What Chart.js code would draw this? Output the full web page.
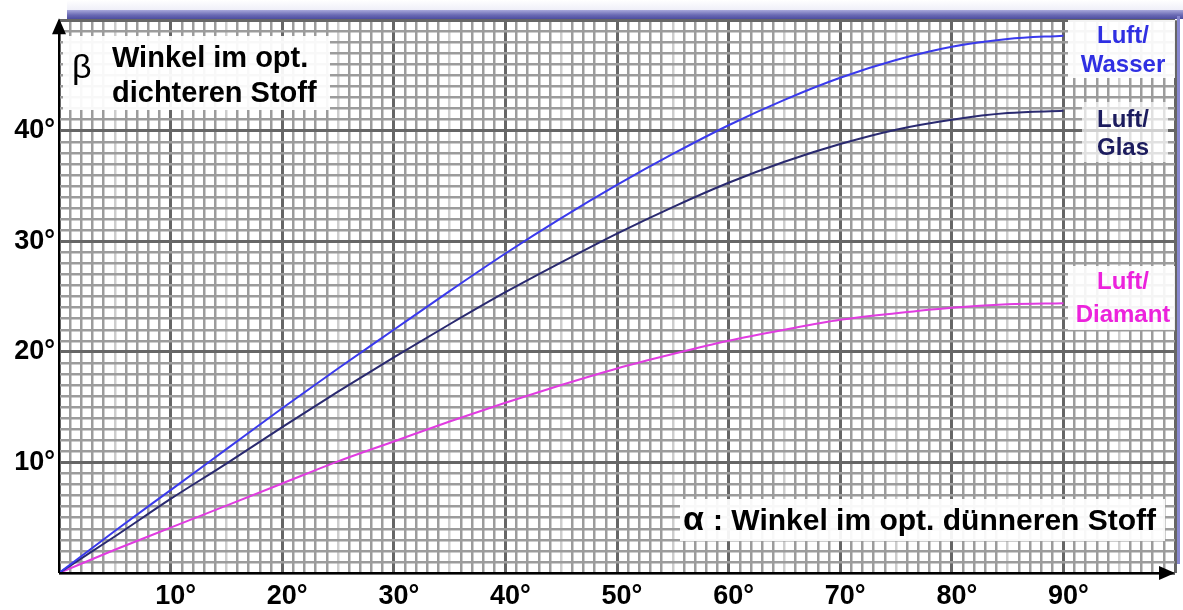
<!DOCTYPE html>
<html>
<head>
<meta charset="utf-8">
<script src="https://cdn.jsdelivr.net/npm/chart.js@4.4.1/dist/chart.umd.min.js"></script>
<style>
  html, body { margin: 0; padding: 0; background: #fff; }
  canvas { display: block; }
</style>
</head>
<body>
<canvas id="c" width="1183" height="610"></canvas>
<script>
// Brechung: Einfallswinkel alpha (Luft) -> Brechungswinkel beta
const alpha   = [0, 5, 10, 15, 20, 25, 30, 35, 40, 45, 50, 55, 60, 65, 70, 75, 80, 85, 90];
const wasser  = [0, 3.8, 7.5, 11.2, 14.9, 18.5, 22.0, 25.5, 28.9, 32.1, 35.1, 37.9, 40.5, 42.8, 44.8, 46.4, 47.6, 48.3, 48.6];
const glas    = [0, 3.3, 6.7, 9.9, 13.2, 16.4, 19.5, 22.5, 25.4, 28.1, 30.7, 33.1, 35.3, 37.2, 38.8, 40.1, 41.0, 41.6, 41.8];
const diamant = [0, 2.1, 4.1, 6.1, 8.1, 10.1, 11.9, 13.7, 15.4, 17.0, 18.5, 19.8, 21.0, 22.0, 22.9, 23.5, 24.0, 24.3, 24.4];

const xTickLabels = [10, 20, 30, 40, 50, 60, 70, 80, 90];
const yTickLabels = [10, 20, 30, 40];

const FONT = '"Liberation Sans", Arial, sans-serif';

function pts(ys) { return alpha.map((a, i) => ({ x: a, y: ys[i] })); }

function gridColor(v, vertical) {
  if (v % 10 === 0) return '#666666';
  if (vertical && v % 5 === 0) return '#cdcdcd';
  return '#9c9c9c';
}

const deko = {
  id: 'deko',
  beforeDraw(chart) {
    const ctx = chart.ctx;
    ctx.save();
    ctx.fillStyle = '#fff';
    ctx.fillRect(0, 0, chart.width, chart.height);
    const g = ctx.createLinearGradient(0, 0, 0, 12);
    g.addColorStop(0, '#ffffff');
    g.addColorStop(1, '#ececf7');
    ctx.fillStyle = g;
    ctx.fillRect(67, 0, chart.width - 67, 12);
    ctx.restore();
  },
  afterDraw(chart) {
    const ctx = chart.ctx;
    const { left, right, top, bottom } = chart.chartArea;
    ctx.save();

    // blauer Rahmen oben und rechts
    const g = ctx.createLinearGradient(0, 10, 0, 20);
    g.addColorStop(0, '#a8a8da');
    g.addColorStop(0.5, '#6a6ab4');
    g.addColorStop(1, '#46469a');
    ctx.fillStyle = g;
    ctx.fillRect(67, 10, chart.width - 67, 9);
    ctx.fillStyle = '#8888cf';
    ctx.fillRect(1177, 16, 3, 548);

    // Achsen mit Pfeilen
    ctx.strokeStyle = '#000';
    ctx.fillStyle = '#000';
    ctx.lineWidth = 2;
    ctx.beginPath();
    ctx.moveTo(left, bottom); ctx.lineTo(left, top + 10);
    ctx.moveTo(left, bottom); ctx.lineTo(right - 10, bottom);
    ctx.stroke();
    ctx.beginPath();
    ctx.moveTo(left, top - 2); ctx.lineTo(left - 7, top + 14); ctx.lineTo(left + 7, top + 14); ctx.closePath();
    ctx.fill();
    ctx.beginPath();
    ctx.moveTo(right, bottom); ctx.lineTo(right - 16, bottom - 7); ctx.lineTo(right - 16, bottom + 7); ctx.closePath();
    ctx.fill();

    function box(x, y, w, h, a) {
      ctx.fillStyle = 'rgba(255,255,255,' + a + ')';
      ctx.fillRect(x, y, w, h);
    }

    // Beschriftung beta
    box(63, 36, 267, 74, 0.93);
    ctx.fillStyle = '#000';
    ctx.textAlign = 'left';
    ctx.textBaseline = 'alphabetic';
    ctx.font = '34px ' + FONT;
    ctx.fillText('β', 72, 78);
    ctx.font = 'bold 29px ' + FONT;
    ctx.fillText('Winkel im opt.', 112, 67);
    ctx.fillText('dichteren Stoff', 112, 102);

    // Beschriftung alpha
    box(680, 499, 485, 42, 0.93);
    ctx.fillStyle = '#000';
    ctx.font = 'bold 34px ' + FONT;
    ctx.fillText('α', 683, 530);
    ctx.font = 'bold 30px ' + FONT;
    ctx.fillText(': Winkel im opt. dünneren Stoff', 713, 530);

    // Kurvennamen rechts
    ctx.textAlign = 'center';
    ctx.font = 'bold 24px ' + FONT;
    box(1068, 20, 107, 58, 0.92);
    ctx.fillStyle = '#2f2fe2';
    ctx.fillText('Luft/', 1123, 43);
    ctx.fillText('Wasser', 1123, 72);

    box(1082, 102, 86, 60, 0.7);
    ctx.fillStyle = '#1c1c5e';
    ctx.fillText('Luft/', 1123, 127);
    ctx.fillText('Glas', 1123, 155);

    box(1068, 266, 107, 64, 0.9);
    ctx.fillStyle = '#ec22dc';
    ctx.fillText('Luft/', 1123, 289);
    ctx.fillText('Diamant', 1123, 322);

    ctx.restore();
  }
};

new Chart(document.getElementById('c'), {
  type: 'scatter',
  data: {
    datasets: [
      { label: 'Luft/Wasser', data: pts(wasser), borderColor: '#3a3aec', borderWidth: 2 },
      { label: 'Luft/Glas', data: pts(glas), borderColor: '#2a2a70', borderWidth: 2 },
      { label: 'Luft/Diamant', data: pts(diamant), borderColor: '#e03ce0', borderWidth: 2 }
    ].map(d => Object.assign(d, { showLine: true, pointRadius: 0, cubicInterpolationMode: 'monotone', fill: false }))
  },
  options: {
    responsive: false,
    animation: false,
    devicePixelRatio: 1,
    layout: { padding: { top: 19, right: 8, left: 0, bottom: 0 } },
    plugins: { legend: { display: false }, tooltip: { enabled: false } },
    scales: {
      x: {
        type: 'linear', min: 0, max: 100,
        afterFit: s => { s.height = 37; },
        border: { display: false },
        grid: {
          drawTicks: false,
          color: c => gridColor(c.tick.value, true),
          lineWidth: c => (c.tick.value % 10 === 0 ? 3 : 2.5)
        },
        ticks: {
          stepSize: 1, autoSkip: false, maxRotation: 0, padding: 7, labelOffset: 5,
          color: '#000', font: { family: FONT, size: 27, weight: 'bold' },
          callback: v => (xTickLabels.includes(v) ? v + '°' : '')
        }
      },
      y: {
        type: 'linear', min: 0, max: 50,
        afterFit: s => { s.width = 59; },
        border: { display: false },
        grid: {
          drawTicks: false,
          color: c => gridColor(c.tick.value, false),
          lineWidth: c => (c.tick.value % 10 === 0 ? 3 : 2.5)
        },
        ticks: {
          stepSize: 1, autoSkip: false, padding: 4,
          color: '#000', font: { family: FONT, size: 27, weight: 'bold' },
          callback: v => (yTickLabels.includes(v) ? v + '°' : '')
        }
      }
    }
  },
  plugins: [deko]
});
</script>
</body>
</html>
